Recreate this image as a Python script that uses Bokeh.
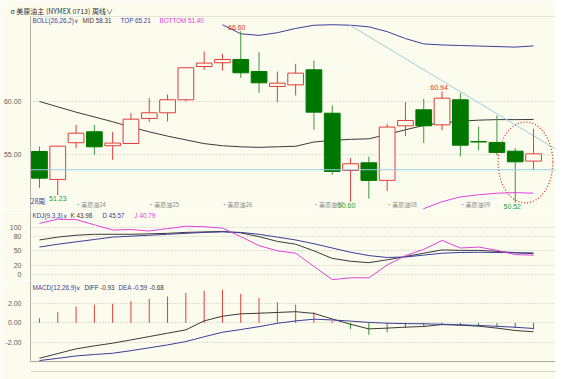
from bokeh.plotting import figure
from bokeh.layouts import column
from bokeh.models import Range1d, Span, Label, PrintfTickFormatter, ColumnDataSource
from bokeh.embed import file_html
from bokeh.resources import INLINE

nan = float("nan")

# ---------------- data ----------------
weeks = list(range(28))
opens = [55.31, 52.69, 56.13, 57.16, 55.85, 56.06, 58.41, 58.94, 60.16, 63.28,
         63.63, 63.94, 62.81, 61.41, 61.56, 62.97, 58.90, 53.53, 54.25, 52.60,
         57.72, 59.22, 57.81, 60.16, 56.25, 56.16, 55.34, 54.41]
closes = [52.81, 55.81, 57.03, 55.75, 56.10, 58.34, 58.94, 60.16, 63.16, 63.60,
          63.94, 62.69, 61.75, 61.72, 62.66, 59.00, 53.44, 54.16, 52.60, 57.60,
          58.22, 57.72, 60.31, 55.90, 56.20, 55.22, 54.34, 55.09]
highs = [55.78, 55.85, 57.81, 57.81, 57.13, 58.90, 60.31, 60.66, 63.20, 64.70,
         64.47, 66.60, 64.62, 62.81, 63.53, 63.84, 59.63, 54.69, 54.84, 57.90,
         59.94, 60.25, 60.94, 60.78, 57.66, 58.69, 55.63, 57.44]
lows = [51.91, 51.23, 55.62, 55.00, 54.53, 56.06, 58.06, 58.12, 60.00, 62.97,
        62.90, 62.22, 60.81, 59.94, 60.56, 57.35, 53.13, 50.60, 50.88, 51.60,
        56.75, 56.10, 57.28, 54.84, 55.41, 54.94, 50.52, 53.59]

boll_mid = [60.0, 59.5, 59.0, 58.55, 58.1, 57.6, 57.15, 56.75, 56.4, 56.05,
            55.85, 55.75, 55.7, 55.75, 55.8, 56.2, 56.35, 56.45, 56.5, 56.9,
            57.35, 57.75, 58.0, 58.15, 58.25, 58.3, 58.3, 58.31]
boll_top = [nan] * 10 + [67.2, 66.35, 66.2, 66.45, 66.85, 67.15, 67.2, 67.15, 67.0,
                         66.55, 65.9, 65.4, 65.3, 65.25, 65.2, 65.15, 65.1, 65.21]
boll_bottom = [nan] * 20 + [48.6, 49.95, 50.6, 51.05, 51.25, 51.4, 51.45, 51.40]

kdj_k = [73, 79, 83, 85, 85, 85, 86, 87, 89, 90, 91, 88, 80, 70, 64, 50, 34, 28,
         25, 31, 38, 45, 52, 51, 51, 49, 46, 43.98]
kdj_d = [58, 64, 69, 74, 79, 81, 83, 85, 87, 89, 90, 89, 85, 79, 73, 65, 56, 47,
         40, 36, 37, 41, 45, 46.5, 47, 46.5, 46, 45.57]
kdj_j = [108, 117, 116, 105, 94, 95, 92, 97, 102, 101, 98, 80, 61, 50, 45, 17, -11, -7,
         -7, 20, 40, 53, 72, 56, 58, 51, 42, 40.79]

macd_diff = [-3.69, -3.2, -2.71, -2.4, -2.12, -1.78, -1.43, -1.08, -0.73, 0.2,
             0.69, 0.94, 1.0, 1.08, 1.16, 0.98, 0.4, -0.15, -0.63, -0.55,
             -0.45, -0.38, -0.18, -0.25, -0.35, -0.55, -0.8, -0.93]
macd_dea = [-3.93, -3.7, -3.45, -3.3, -3.17, -2.9, -2.6, -2.3, -1.95, -1.45,
            -0.98, -0.7, -0.4, -0.05, 0.2, 0.38, 0.3, 0.18, 0.05, -0.04,
            -0.08, -0.1, -0.15, -0.2, -0.27, -0.36, -0.46, -0.59]
macd_hist = [0.48, 1.1, 1.7, 1.9, 1.98, 2.25, 2.5, 2.74, 3.12, 3.36,
             3.44, 3.02, 2.6, 2.15, 1.9, 1.1, 0.2, -0.63, -1.25, -0.98,
             -0.55, -0.45, -0.15, -0.3, -0.35, -0.45, -0.55, -0.68]

month_pos = [2, 6, 10, 15, 19, 23]
month_labels = ["·美原油24", "·美原油25", "·美原油26", "·美原油07", "·美原油08", "·美原油09"]
price_ticks = [55, 60]
kdj_ticks = [0, 20, 50, 80, 100]
macd_ticks = [-2, 0, 2]

support_level = 53.6
trend_x = [16.93, 28.2]
trend_y = [67.19, 55.54]
highlight_x, highlight_y, highlight_w, highlight_h = 26.56, 54.28, 2.99, 7.59

low_marks_x = [1, 17, 26]
low_marks_v = [51.23, 50.60, 50.52]
low_marks_dx = [0, -4, -3]
high_marks_x = [11, 22]
high_marks_v = [66.60, 60.94]
high_marks_dx = [-4, -3]

# ---------------- style ----------------
BG = "#FCFCEE"
RED = "#E03C3C"
GREEN = "#007800"
GREEN_W = "#3C963C"
NAVY = "#3C3C9C"
DARK = "#3A3A3A"
MAGENTA = "#E040E0"
LBLUE = "#9CCDE4"
GRID = "#C4C4B4"
SEP = "#A8A8A0"
FONT = "Liberation Sans"
CJK = "Noto Sans CJK SC"
HDR_SIZE = "6.3px"

x_range = Range1d(-0.49, 28.2)


def make_fig(height, yr, top=0, bottom=0):
    p = figure(width=555, height=height, x_range=x_range, y_range=yr,
               output_backend="svg", toolbar_location=None,
               x_axis_location=None, min_border_left=28, min_border_right=0,
               min_border_top=top, min_border_bottom=bottom,
               background_fill_color=BG, border_fill_color=BG,
               outline_line_color=None)
    p.xgrid.visible = False
    p.ygrid.grid_line_color = GRID
    p.ygrid.grid_line_dash = "1 2"
    ax = p.yaxis[0]
    ax.major_label_text_font_size = "7px"
    ax.major_label_text_font = FONT
    ax.major_label_text_color = "#606060"
    ax.major_tick_line_color = None
    ax.minor_tick_line_color = None
    ax.axis_line_color = "#B0B0A8"
    ax.major_label_standoff = 3
    return p


def hdr(p, x, y, text, color, font=FONT, size=HDR_SIZE):
    p.add_layout(Label(x=x, y=y, x_units="screen", y_units="screen", text=text,
                       text_font=font, text_font_size=size, text_color=color,
                       text_baseline="middle"))


# ---------------- main (BOLL + candles) ----------------
p1 = make_fig(209, Range1d(49.87, 67.97), top=16)
p1.title.text = "σ 美原油主 (NYMEX 0713)   周线∨"
p1.title.text_font = CJK
p1.title.text_font_size = "7px"
p1.title.text_font_style = "normal"
p1.title.text_color = "#303030"
p1.title.align = "left"
p1.title.offset = -20
p1.title.standoff = 1
p1.yaxis.ticker = price_ticks
p1.yaxis.formatter = PrintfTickFormatter(format="%.2f")

up = [c >= o for o, c in zip(opens, closes)]
src = ColumnDataSource(dict(
    x=weeks, high=highs, low=lows,
    top=[max(o, c) for o, c in zip(opens, closes)],
    bottom=[min(o, c) for o, c in zip(opens, closes)],
    wick=[RED if u else GREEN_W for u in up],
    line=[RED if u else GREEN for u in up],
    fill=[BG if u else GREEN for u in up],
))

p1.add_layout(Span(location=support_level, dimension="width", line_color=LBLUE, line_width=1))
p1.line(weeks, boll_mid, line_color=DARK, line_width=1)
p1.line(weeks, boll_top, line_color=NAVY, line_width=1)
p1.line(weeks, boll_bottom, line_color=MAGENTA, line_width=1)
p1.line(trend_x, trend_y, line_color=LBLUE, line_width=1)
p1.segment(x0="x", y0="high", x1="x", y1="low", source=src, line_color="wick", line_width=1)
p1.vbar(x="x", width=0.86, top="top", bottom="bottom", source=src,
        fill_color="fill", line_color="line", line_width=1)
p1.ellipse(x=[highlight_x], y=[highlight_y], width=[highlight_w], height=[highlight_h],
           fill_color=None, line_color="#D03030", line_dash="1 2", line_width=1.3)

p1.add_layout(Span(location=67.97, dimension="width", line_color="#C8C8C0", line_width=1))
p1.add_layout(Span(location=49.87, dimension="width", line_color=SEP, line_width=1))

hdr(p1, 2, 189, "BOLL(26,26,2)∨", NAVY)
hdr(p1, 52, 189, "MID 58.31", DARK)
hdr(p1, 90, 189, "TOP 65.21", NAVY)
hdr(p1, 129, 189, "BOTTOM 51.40", MAGENTA)
hdr(p1, 0, 9, "28周", NAVY, CJK, "7px")

for pos, lab in zip(month_pos, month_labels):
    p1.add_layout(Label(x=pos - 0.05, y=1, x_units="data", y_units="screen", text=lab,
                        text_font=CJK, text_font_size="6px", text_color="#8A8A8A",
                        text_baseline="bottom"))
for xi, v, dx in zip(low_marks_x, low_marks_v, low_marks_dx):
    p1.add_layout(Label(x=xi, y=v, text=f"{v:.2f}", text_font=FONT, text_font_size="7px",
                        text_color="#2E9A2E", text_align="center", text_baseline="top",
                        x_offset=dx, y_offset=-1))
for xi, v, dx in zip(high_marks_x, high_marks_v, high_marks_dx):
    p1.add_layout(Label(x=xi, y=v, text=f"{v:.2f}", text_font=FONT, text_font_size="7px",
                        text_color="#E03030", text_align="center", text_baseline="bottom",
                        x_offset=dx, y_offset=1))

# ---------------- KDJ ----------------
p2 = make_fig(71, Range1d(-12.7, 137.4))
p2.yaxis.ticker = kdj_ticks
p2.line(weeks, kdj_k, line_color=DARK, line_width=1)
p2.line(weeks, kdj_d, line_color=NAVY, line_width=1)
p2.line(weeks, kdj_j, line_color=MAGENTA, line_width=1)
p2.add_layout(Span(location=-12.7, dimension="width", line_color=SEP, line_width=1))
hdr(p2, 2, 65, "KDJ(9,3,3)∨", NAVY)
hdr(p2, 40, 65, "K 43.98", DARK)
hdr(p2, 72, 65, "D 45.57", NAVY)
hdr(p2, 104, 65, "J 40.79", MAGENTA)

# ---------------- MACD ----------------
p3 = make_fig(99, Range1d(-5.07, 4.41), bottom=8)
p3.yaxis.ticker = macd_ticks
p3.yaxis.formatter = PrintfTickFormatter(format="%.2f")
p3.yaxis.bounds = (-4.03, 4.41)
hsrc = ColumnDataSource(dict(x=weeks, zero=[0] * len(weeks), h=macd_hist,
                             c=[RED if v >= 0 else "#2E8B2E" for v in macd_hist]))
p3.segment(x0="x", y0="zero", x1="x", y1="h", source=hsrc, line_color="c", line_width=1)
p3.line(weeks, macd_diff, line_color=DARK, line_width=1)
p3.line(weeks, macd_dea, line_color=NAVY, line_width=1)
p3.add_layout(Span(location=-4.03, dimension="width", line_color=SEP, line_width=1))
p3.add_layout(Span(location=-5.07, dimension="width", line_color=SEP, line_width=1))
hdr(p3, 2, 84, "MACD(12,26,9)∨", NAVY)
hdr(p3, 54, 84, "DIFF -0.93", DARK)
hdr(p3, 88, 84, "DEA -0.59", NAVY)
hdr(p3, 119, 84, "-0.68", DARK)

layout = column(p1, p2, p3, spacing=0)
open("out.html", "w").write(file_html(layout, INLINE))
